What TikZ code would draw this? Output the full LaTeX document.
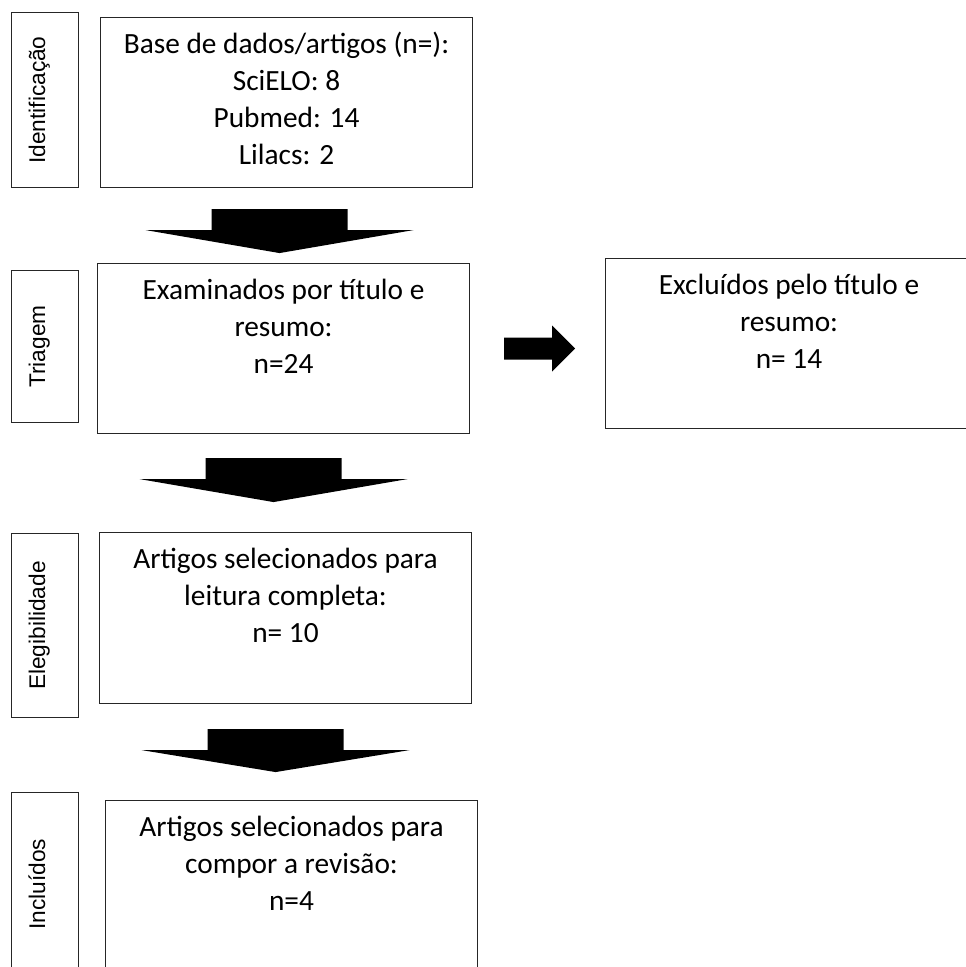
\documentclass[tikz,border=0pt]{standalone}
\usepackage{fontspec}
\setmainfont{Carlito}
\newfontfamily\sidefont{Liberation Sans}
\usepackage{tikz}
\usetikzlibrary{calc, positioning}

\tikzset{
  box/.style={draw=black!85, line width=0.8pt, anchor=north west, inner sep=0pt},
  boxtext/.style={align=center, inner sep=0pt, font=\fontsize{22}{27.75}\selectfont},
  sidetext/.style={rotate=90, anchor=base, inner sep=0pt, font=\sidefont\fontsize{17}{20}\selectfont},
  blockarrow/.style={fill=black}
}

\begin{document}
\begin{tikzpicture}[x=0.75pt, y=-0.75pt]
  \useasboundingbox (0,0) rectangle (966,967);
  \clip (0,0) rectangle (966,967);
  % Stage labels
  \node[box, minimum width=50.25pt, minimum height=131.25pt] (id) at (11,12) {};
  \node[box, minimum width=50.25pt, minimum height=114pt] (tri) at (11,270) {};
  \node[box, minimum width=50.25pt, minimum height=138pt] (ele) at (11,533) {};
  \node[box, minimum width=50.25pt, minimum height=137.25pt] (inc) at (11,792) {};
  \node[sidetext] (id-txt) at (id.center) {Identificação};
  \node[sidetext] (tri-txt) at (tri.center) {Triagem};
  \node[sidetext] (ele-txt) at (ele.center) {Elegibilidade};
  \node[sidetext] (inc-txt) at (inc.center) {Incluídos};
  % Flow boxes
  \node[box, minimum width=279pt, minimum height=127.5pt] (bd) at (100,17) {};
  \node[box, minimum width=279pt, minimum height=127.5pt] (exam) at (97,263) {};
  \node[box, minimum width=279pt, minimum height=128.25pt] (sel) at (99,532) {};
  \node[box, minimum width=279pt, minimum height=138.75pt] (rev) at (105,800) {};
  \node[box, minimum width=275.25pt, minimum height=127.5pt] (excl) at (605,258) {};
  % Box texts
  \node[boxtext, below=11pt of bd.north] (bd-txt)
    {Base de dados/artigos (n=):\\ SciELO: 8\\ Pubmed: 14\\ Lilacs: 2};
  \node[boxtext, below=12pt of exam.north] (exam-txt)
    {Examinados por título e\\ resumo:\\ n=24};
  \node[boxtext, below=12pt of sel.north] (sel-txt)
    {Artigos selecionados para\\ leitura completa:\\ n= 10};
  \node[boxtext, below=12pt of rev.north] (rev-txt)
    {Artigos selecionados para\\ compor a revisão:\\ n=4};
  \node[boxtext, below=12pt of excl.north] (excl-txt)
    {Excluídos pelo título e\\ resumo:\\ n= 14};
  % Block arrows
  \fill[blockarrow] ($(bd.south)+(-7,21)$) ++(-68,0) -- ++(136,0) -- ++(0,21)
    -- ++(66,0) -- ++(-134,23) -- ++(-134,-23) -- ++(66,0) -- cycle;
  \fill[blockarrow] ($(exam.south)+(-10,24)$) ++(-68,0) -- ++(136,0) -- ++(0,21)
    -- ++(66,0) -- ++(-134,23) -- ++(-134,-23) -- ++(66,0) -- cycle;
  \fill[blockarrow] ($(sel.south)+(-10,25)$) ++(-68,0) -- ++(136,0) -- ++(0,21)
    -- ++(66,0) -- ++(-134,22) -- ++(-134,-22) -- ++(66,0) -- cycle;
  \fill[blockarrow] ($(exam.east)+(34,-11)$) -- ++(48,0) -- ++(0,-12) -- ++(23,23)
    -- ++(-23,23) -- ++(0,-12) -- ++(-48,0) -- cycle;
\end{tikzpicture}
\end{document}
